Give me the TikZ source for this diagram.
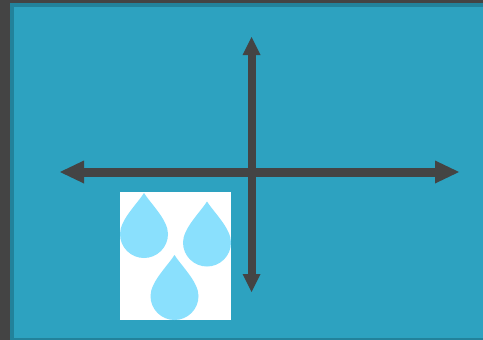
\documentclass[tikz,border=0pt]{standalone}
\definecolor{sheet}{RGB}{45,162,192}
\definecolor{rim}{RGB}{34,130,155}
\definecolor{ink}{RGB}{68,68,68}
\definecolor{dropblue}{RGB}{138,224,253}
\tikzset{
  shaft/.style={draw=ink,line width=#1},
  head/.style={fill=ink,draw=none},
  dropshape/.style={fill=dropblue,draw=none},
  pics/raindrop/.style={code={
    \path[dropshape] (0,0)
      .. controls (7,11) and (24,27) .. (24,41)
      .. controls (24,54.5) and (13,65) .. (0,65)
      .. controls (-13,65) and (-24,54.5) .. (-24,41)
      .. controls (-24,27) and (-7,11) .. (0,0) -- cycle;
  }}
}
\begin{document}
\begin{tikzpicture}[x=1pt,y=-1pt]
\useasboundingbox (0,0) rectangle (483,340);
\fill[ink] (0,0) rectangle (483,340);
\fill[rim] (10,3) rectangle (483,340);
\fill[sheet] (14,6.5) rectangle (483,338);
% axes
\coordinate (west) at (60,172);
\coordinate (east) at (459,172);
\coordinate (north) at (251.5,37);
\coordinate (south) at (251.5,292);
\draw[shaft=9pt] (80,172) -- (440,172);
\draw[shaft=8pt] (251.5,50) -- (251.5,280);
\path[head] (west) -- (84,160.5) -- (84,183.5) -- cycle;
\path[head] (east) -- (435,160.5) -- (435,183.5) -- cycle;
\path[head] (north) -- (242.5,55) -- (260.5,55) -- cycle;
\path[head] (south) -- (242.5,274) -- (260.5,274) -- cycle;
% picture of drops
\fill[white] (120,192) rectangle (231,320);
\pic at (144,193) {raindrop};
\pic at (207,201.5) {raindrop};
\pic at (174.5,255) {raindrop};
\end{tikzpicture}
\end{document}
